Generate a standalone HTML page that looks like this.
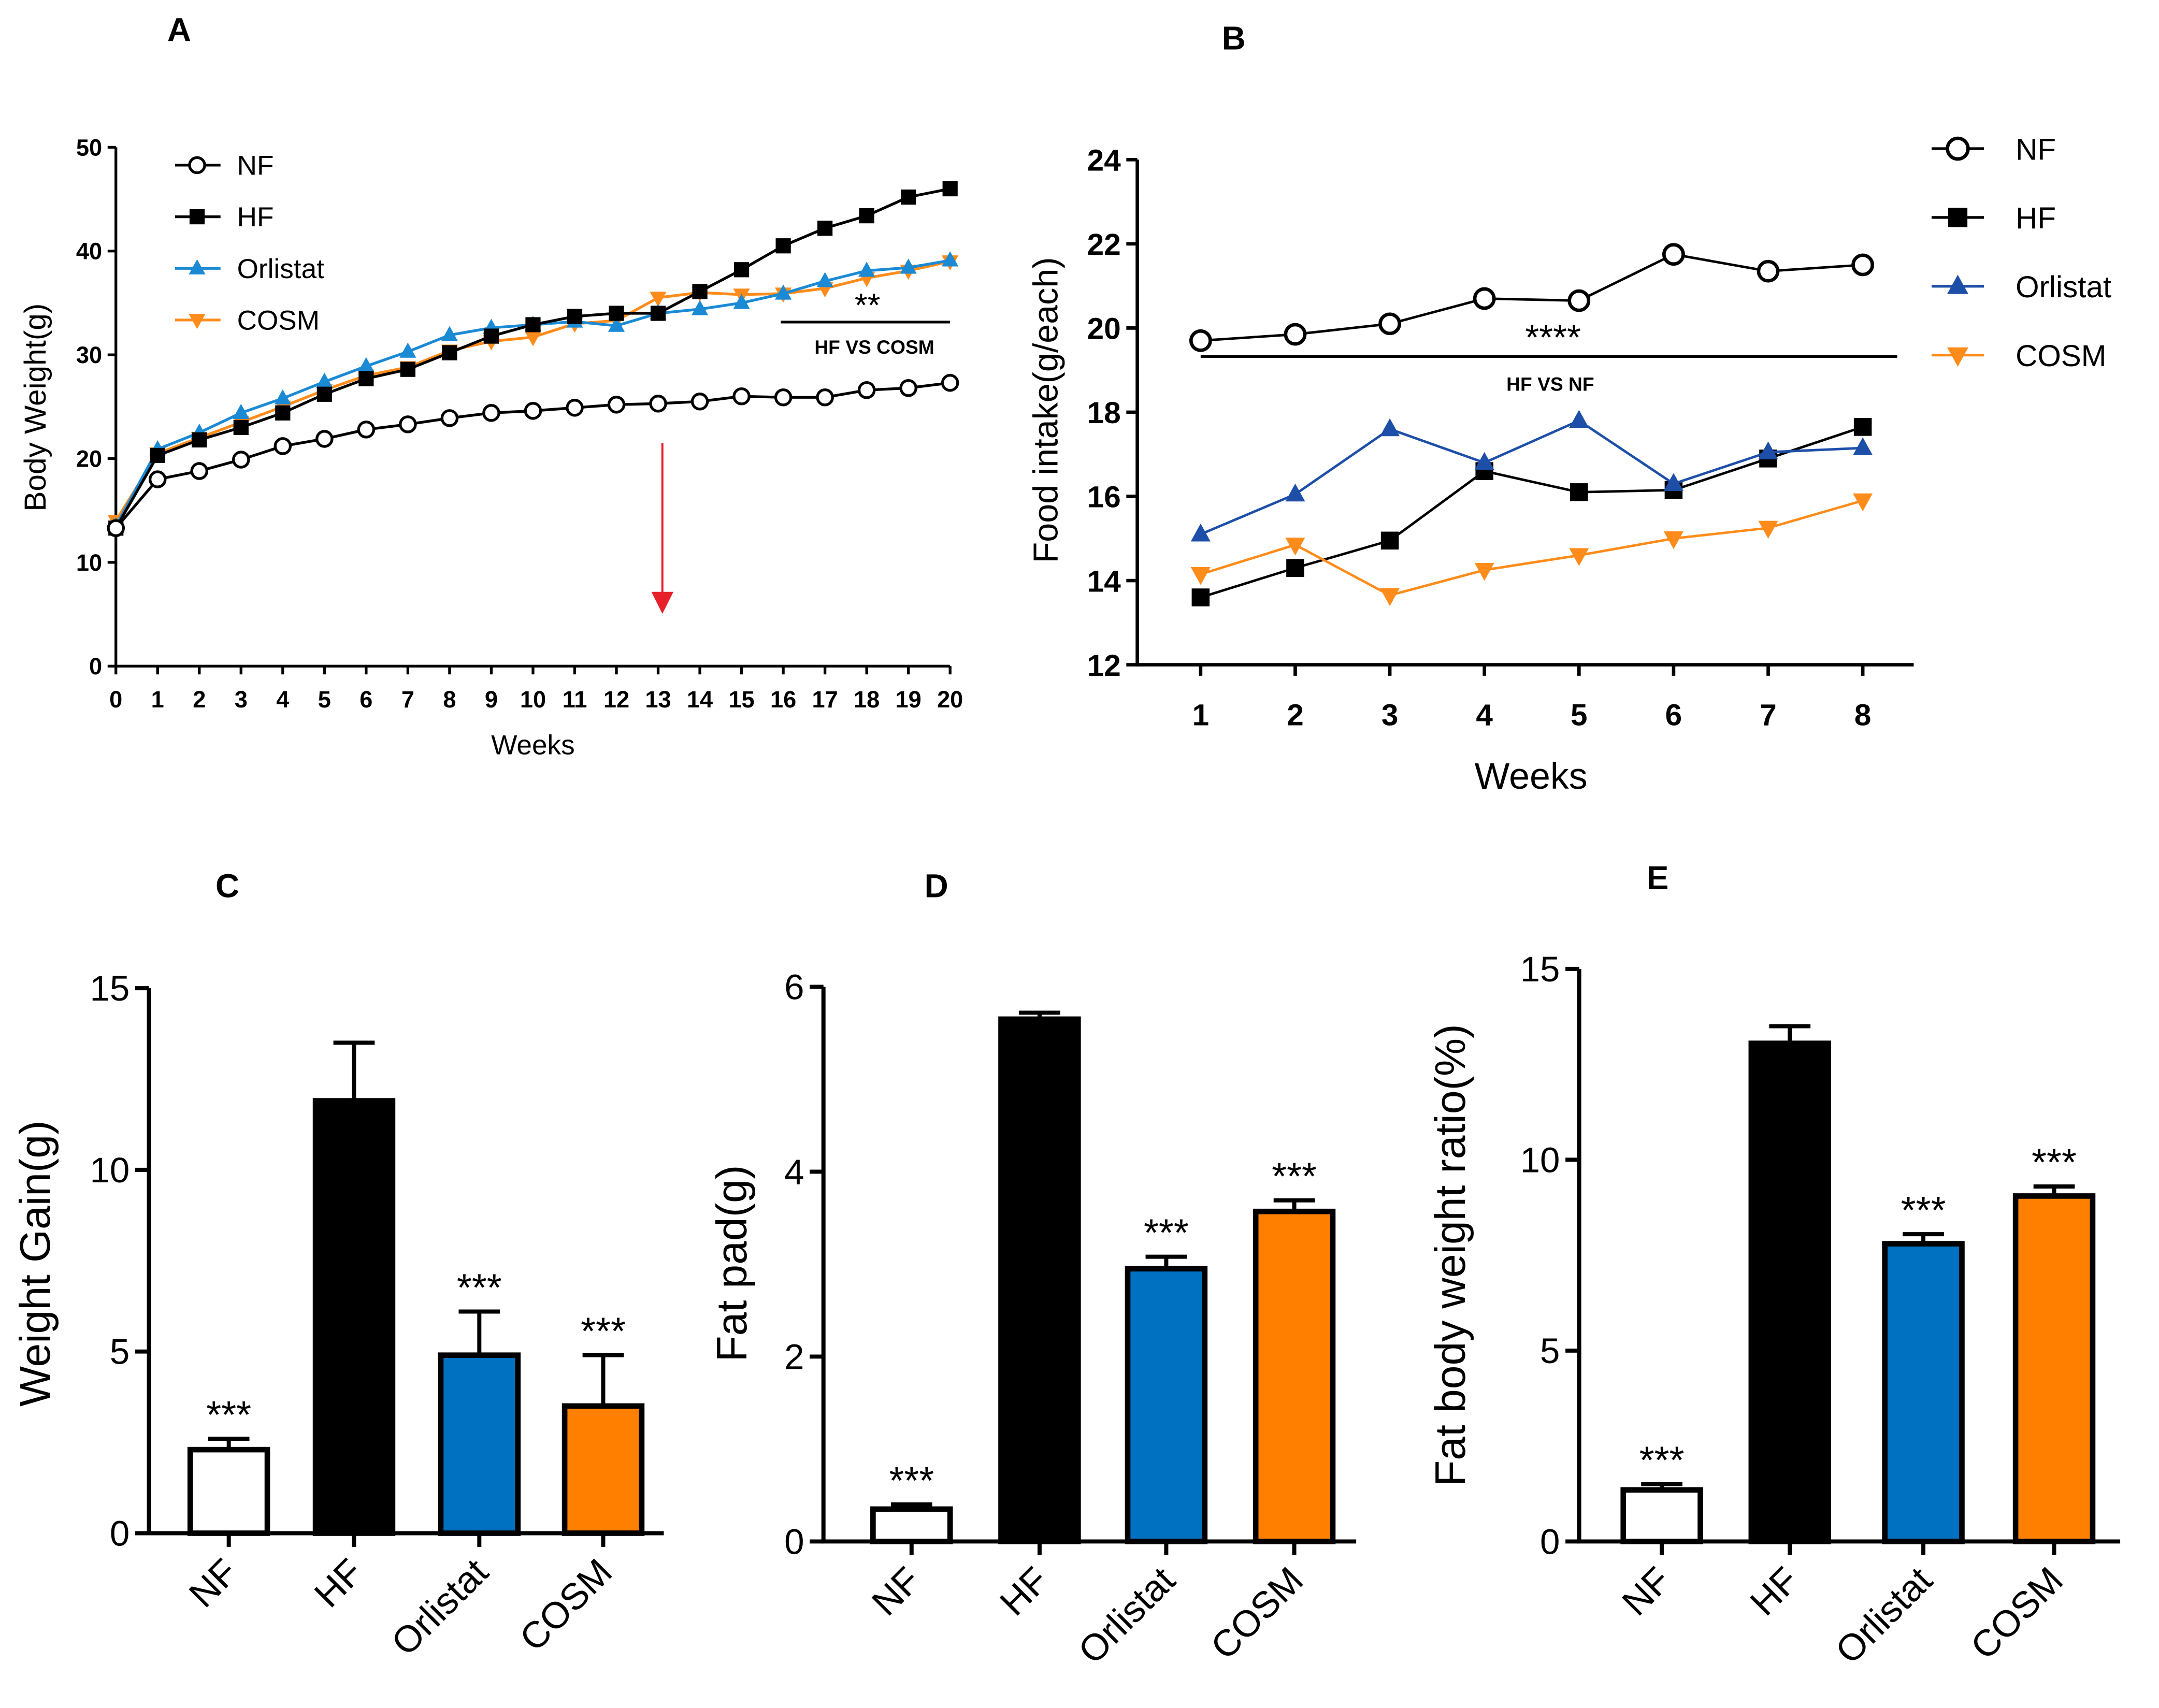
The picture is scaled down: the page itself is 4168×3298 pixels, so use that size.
<!DOCTYPE html>
<html><head><meta charset="utf-8"><style>
html,body{margin:0;padding:0;background:#fff}
svg{display:block}
text{font-family:"Liberation Sans",sans-serif}
</style></head><body>
<svg id="c" width="4168" height="3298" viewBox="0 0 1568 1241" xmlns="http://www.w3.org/2000/svg"></svg>
<script>
// Panel A data
const weeksA=[0,1,2,3,4,5,6,7,8,9,10,11,12,13,14,15,16,17,18,19,20];
const aNF=[13.3,18,18.8,19.9,21.2,21.9,22.8,23.3,23.9,24.4,24.6,24.9,25.2,25.3,25.5,26,25.9,25.9,26.6,26.8,27.3];
const aHF=[13.3,20.3,21.8,23,24.4,26.2,27.7,28.6,30.2,31.8,32.9,33.7,34,34,36.1,38.2,40.5,42.2,43.4,45.2,46];
const aOrl=[13.5,20.9,22.5,24.4,25.8,27.4,28.9,30.3,31.9,32.6,32.9,33.2,32.8,34,34.4,35,35.9,37.1,38.1,38.4,39.1];
const aCOSM=[14,20.5,22,23.5,25,26.6,28,28.8,30.4,31.3,31.7,33,33.3,35.5,36,35.8,35.9,36.4,37.4,38.1,39];
const aYTicks=[0,10,20,30,40,50];
// Panel B data
const weeksB=[1,2,3,4,5,6,7,8];
const bNF=[19.7,19.85,20.1,20.7,20.65,21.75,21.35,21.5];
const bHF=[13.6,14.3,14.95,16.6,16.1,16.15,16.9,17.65];
const bOrl=[15.1,16.05,17.6,16.8,17.8,16.3,17.05,17.15];
const bCOSM=[14.15,14.85,13.65,14.25,14.6,15,15.25,15.9];
const bYTicks=[12,14,16,18,20,22,24];
// Bars
const groups=["NF","HF","Orlistat","COSM"];
const cVals=[2.3,11.9,4.9,3.5];
const cErr=[0.3,1.6,1.2,1.4];
const cTicks=[0,5,10,15];
const dVals=[0.35,5.65,2.95,3.57];
const dErr=[0.05,0.07,0.13,0.12];
const dTicks=[0,2,4,6];
const eVals=[1.35,13.05,7.8,9.05];
const eErr=[0.15,0.45,0.25,0.25];
const eTicks=[0,5,10,15];

const S=document.getElementById('c');
const NS="http://www.w3.org/2000/svg";
function mk(tag,attrs,txt){const e=document.createElementNS(NS,tag);for(const k in attrs)e.setAttribute(k,attrs[k]);if(txt!==undefined)e.textContent=txt;S.appendChild(e);return e;}
function marker(shape,x,y,r,col){
  if(shape==='o')return mk('circle',{cx:x,cy:y,r:r,fill:'#fff',stroke:col,'stroke-width':2});
  if(shape==='s')return mk('rect',{x:x-r,y:y-r,width:2*r,height:2*r,fill:col});
  if(shape==='t')return mk('polygon',{points:`${x},${y-r*1.2} ${x-r*1.1},${y+r*0.8} ${x+r*1.1},${y+r*0.8}`,fill:col});
  return mk('polygon',{points:`${x},${y+r*1.2} ${x-r*1.1},${y-r*0.8} ${x+r*1.1},${y-r*0.8}`,fill:col});
}

// ---- Panel A ----
const ax=w=>84+w*(606/20), ay=v=>484-v*(377/50);
let e=mk('text',{x:130,y:30,'font-size':24,'font-weight':'bold','text-anchor':'middle'},'A');

e=mk('path',{d:`M84,${ay(50)} V484 H690`,stroke:'#000','stroke-width':2,fill:'none'});

aYTicks.forEach(t=>{mk('line',{x1:78,x2:84,y1:ay(t),y2:ay(t),stroke:'#000','stroke-width':2});
  e=mk('text',{x:74,y:ay(t)+6,'font-size':17,'font-weight':'bold','text-anchor':'end'},t);
  });
weeksA.forEach(w=>{mk('line',{x1:ax(w),x2:ax(w),y1:484,y2:490,stroke:'#000','stroke-width':2});
  e=mk('text',{x:ax(w),y:514,'font-size':17,'font-weight':'bold','text-anchor':'middle'},w);
  });
e=mk('text',{x:387,y:548,'font-size':20,'text-anchor':'middle'},'Weeks');

e=mk('text',{x:0,y:0,'font-size':22,'text-anchor':'middle',transform:'translate(33,296) rotate(-90)'},'Body Weight(g)');

const aSeries=[[aNF,'#000','o','NF'],[aHF,'#000','s','HF'],[aOrl,'#1a8ad4','t','Orlistat'],[aCOSM,'#ff8c1a','v','COSM']];
[aCOSM,aOrl,aHF,aNF].forEach(d=>{const s=aSeries.find(q=>q[0]===d);
  e=mk('polyline',{points:d.map((v,i)=>ax(weeksA[i])+','+ay(v)).join(' '),fill:'none',stroke:s[1],'stroke-width':2});
  
  d.forEach((v,i)=>{e=marker(s[2],ax(weeksA[i]),ay(v),5.5,s[1]);
    });});
aSeries.forEach((s,i)=>{const y=120+i*37.5;
  mk('line',{x1:127,x2:160,y1:y,y2:y,stroke:s[1],'stroke-width':2});marker(s[2],143,y,5.5,s[1]);
  e=mk('text',{x:172,y:y+7,'font-size':20},s[3]);
  });
mk('line',{x1:567,x2:690,y1:234,y2:234,stroke:'#000','stroke-width':2});
e=mk('text',{x:630,y:230,'font-size':24,'text-anchor':'middle'},'**');

e=mk('text',{x:635,y:257,'font-size':14,'font-weight':'bold','font-family':'Liberation Serif','text-anchor':'middle'},'HF VS COSM');

mk('line',{x1:481,x2:481,y1:322,y2:432,stroke:'#e8202a','stroke-width':1.5});
e=mk('polygon',{points:'473,430 489,430 481,446',fill:'#e8202a'});


// ---- Panel B ----
const bx=w=>872+(w-1)*(481/7), by=v=>483-(v-12)*(367/12);
e=mk('text',{x:896,y:36,'font-size':24,'font-weight':'bold','text-anchor':'middle'},'B');

e=mk('path',{d:`M826,${by(24)} V483 H1390`,stroke:'#000','stroke-width':2.5,fill:'none'});

bYTicks.forEach(t=>{mk('line',{x1:818,x2:826,y1:by(t),y2:by(t),stroke:'#000','stroke-width':2.5});
  e=mk('text',{x:814,y:by(t)+8,'font-size':22,'font-weight':'bold','text-anchor':'end'},t);
  });
weeksB.forEach(w=>{mk('line',{x1:bx(w),x2:bx(w),y1:483,y2:491,stroke:'#000','stroke-width':2.5});
  e=mk('text',{x:bx(w),y:527,'font-size':22,'font-weight':'bold','text-anchor':'middle'},w);
  });
e=mk('text',{x:1112,y:573,'font-size':27,'text-anchor':'middle'},'Weeks');

e=mk('text',{x:0,y:0,'font-size':25,'text-anchor':'middle',transform:'translate(768,298) rotate(-90)'},'Food intake(g/each)');

const bSeries=[[bNF,'#000','o','NF'],[bHF,'#000','s','HF'],[bOrl,'#1d4fa8','t','Orlistat'],[bCOSM,'#ff8c1a','v','COSM']];
bSeries.forEach(s=>{
  e=mk('polyline',{points:s[0].map((v,i)=>bx(weeksB[i])+','+by(v)).join(' '),fill:'none',stroke:s[1],'stroke-width':1.8});
  
  s[0].forEach((v,i)=>{e=marker(s[2],bx(weeksB[i]),by(v),s[2]==='o'?7:6.5,s[1]);
    if(s[2]==='o')e.setAttribute('stroke-width',2.5);
    });});
bSeries.forEach((s,i)=>{const y=108+i*50;
  mk('line',{x1:1403,x2:1441,y1:y,y2:y,stroke:s[1],'stroke-width':2});
  e=marker(s[2],1422,y,s[2]==='o'?7.5:7,s[1]);if(s[2]==='o')e.setAttribute('stroke-width',2.5);
  e=mk('text',{x:1464,y:y+8,'font-size':22},s[3]);
  });
mk('line',{x1:872,x2:1378,y1:259,y2:259,stroke:'#000','stroke-width':2});
e=mk('text',{x:1128,y:254,'font-size':26,'text-anchor':'middle'},'****');

e=mk('text',{x:1126,y:284,'font-size':14,'font-weight':'bold','font-family':'Liberation Serif','text-anchor':'middle'},'HF VS NF');


// ---- Bar panels ----
const colors=['#fff','#000','#0070c0','#ff7f00'];
function barPanel(cfg){
  const {id,letter,lx,ly,x0,x1,y0,ytop,max,ticks,centers,vals,errs,title,tx,ty}=cfg;
  const Y=v=>y0-v*(y0-ytop)/max;
  e=mk('text',{x:lx,y:ly,'font-size':24,'font-weight':'bold','text-anchor':'middle'},letter);
  
  e=mk('path',{d:`M${x0},${ytop} V${y0} H${x1}`,stroke:'#000','stroke-width':3,fill:'none'});
  
  ticks.forEach(t=>{mk('line',{x1:x0-10,x2:x0,y1:Y(t),y2:Y(t),stroke:'#000','stroke-width':3});
    e=mk('text',{x:x0-14,y:Y(t)+9,'font-size':26,'text-anchor':'end'},t);
    });
  e=mk('text',{x:0,y:0,'font-size':31,'text-anchor':'middle',transform:`translate(${tx},${ty}) rotate(-90)`},title);
  
  groups.forEach((g,i)=>{const c=centers[i],w=56,top=Y(vals[i]);
    mk('line',{x1:c,x2:c,y1:Y(vals[i]+errs[i]),y2:top,stroke:'#000','stroke-width':3});
    mk('line',{x1:c-15,x2:c+15,y1:Y(vals[i]+errs[i]),y2:Y(vals[i]+errs[i]),stroke:'#000','stroke-width':3});
    e=mk('rect',{x:c-w/2,y:top,width:w,height:y0-top,fill:colors[i],stroke:'#000','stroke-width':4});
    
    mk('line',{x1:c,x2:c,y1:y0,y2:y0+10,stroke:'#000','stroke-width':3});
    e=mk('text',{x:0,y:0,'font-size':27,'text-anchor':'end',transform:`translate(${c+8},${y0+30}) rotate(-45)`},g);
    
    if(i!==1){e=mk('text',{x:c,y:Y(vals[i]+errs[i])-8,'font-size':28,'text-anchor':'middle'},'***');
      }
  });
}
barPanel({id:'c',letter:'C',lx:165,ly:652,x0:108,x1:482,y0:1114,ytop:718,max:15,ticks:cTicks,centers:[166,257,348,438],vals:cVals,errs:cErr,title:'Weight Gain(g)',tx:36,ty:918});
barPanel({id:'d',letter:'D',lx:680,ly:652,x0:598,x1:985,y0:1120,ytop:717,max:6,ticks:dTicks,centers:[662,755,847,940],vals:dVals,errs:dErr,title:'Fat pad(g)',tx:542,ty:918});
barPanel({id:'e',letter:'E',lx:1204,ly:646,x0:1147,x1:1540,y0:1120,ytop:704,max:15,ticks:eTicks,centers:[1207,1300,1397,1492],vals:eVals,errs:eErr,title:'Fat body weight ratio(%)',tx:1064,ty:912});
</script>
</body></html>
